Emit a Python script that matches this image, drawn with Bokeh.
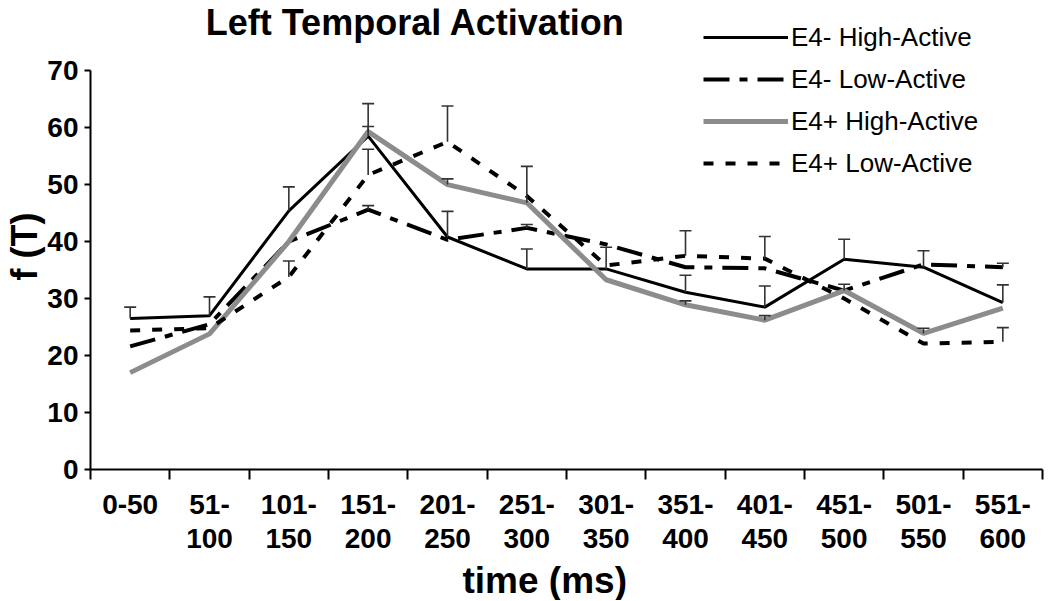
from bokeh.plotting import figure
from bokeh.models import (FixedTicker, Legend, LegendItem, Label, Whisker,
                          ColumnDataSource, TeeHead, Title)
from bokeh.embed import file_html
from bokeh.resources import INLINE

categories = ["0-50", "51-\n100", "101-\n150", "151-\n200", "201-\n250", "251-\n300",
              "301-\n350", "351-\n400", "401-\n450", "451-\n500", "501-\n550", "551-\n600"]

e4m_high = [26.5, 27.0, 45.4, 58.5, 40.8, 35.2, 35.2, 31.1, 28.5, 36.9, 35.5, 29.3]
e4m_high_top = [28.5, 30.3, 49.6, 60.2, 45.3, 38.7, 39.0, 34.1, 32.2, 40.4, 38.4, 32.4]

e4m_low = [21.6, 25.5, 40.0, 45.6, 40.3, 42.4, 39.5, 35.5, 35.3, 31.4, 36.0, 35.5]
e4m_low_top = [None, None, None, 46.3, None, 43.0, None, None, None, None, None, 36.2]

e4p_high = [17.0, 23.8, 40.0, 59.3, 50.0, 46.8, 33.3, 28.9, 26.2, 31.4, 23.9, 28.3]
e4p_high_top = [None, None, None, 64.2, 51.0, 53.2, None, 29.6, 27.0, 32.5, 24.8, None]

e4p_low = [24.4, 24.8, 33.8, 51.7, 57.5, 48.0, 35.8, 37.5, 37.0, 30.0, 22.1, 22.4]
e4p_low_top = [None, None, 36.6, 56.2, 63.8, None, None, 41.9, 40.9, None, None, 24.9]

y_ticks = [0, 10, 20, 30, 40, 50, 60, 70]

title_text = "Left Temporal Activation"
x_title = "time (ms)"
y_title = "f (T)"

FONT = "Liberation Sans, Arial, sans-serif"

n = len(categories)
xc = [i + 0.5 for i in range(n)]

p = figure(width=1050, height=600, x_range=(0, n), y_range=(0, 80.9),
           output_backend="svg", toolbar_location=None,
           min_border_left=90, min_border_right=8, min_border_top=8,
           min_border_bottom=127)
p.outline_line_color = None
p.grid.grid_line_color = None
p.background_fill_color = "white"
p.border_fill_color = "white"

# x axis
p.xaxis.ticker = FixedTicker(ticks=xc, minor_ticks=list(range(n + 1)))
p.xaxis.major_label_overrides = {x: c for x, c in zip(xc, categories)}
p.xaxis.major_tick_out = 0
p.xaxis.major_tick_in = 0
p.xaxis.minor_tick_out = 10
p.xaxis.minor_tick_in = 0
p.xaxis.minor_tick_line_color = "black"
p.xaxis.minor_tick_line_width = 2
p.xaxis.axis_line_width = 2
p.xaxis.axis_line_color = "black"
p.xaxis.major_label_standoff = 9
p.xaxis.major_label_text_font = FONT
p.xaxis.major_label_text_font_style = "bold"
p.xaxis.major_label_text_font_size = "28px"
p.xaxis.major_label_text_color = "black"
p.xaxis.major_label_text_line_height = 1.12

# y axis
p.yaxis.bounds = (0, 70)
p.yaxis.ticker = FixedTicker(ticks=y_ticks)
p.yaxis.minor_tick_line_color = None
p.yaxis.major_tick_out = 6
p.yaxis.major_tick_in = 0
p.yaxis.major_tick_line_width = 2
p.yaxis.axis_line_width = 2
p.yaxis.axis_line_color = "black"
p.yaxis.major_label_standoff = 6
p.yaxis.major_label_text_font = FONT
p.yaxis.major_label_text_font_style = "bold"
p.yaxis.major_label_text_font_size = "28px"
p.yaxis.major_label_text_color = "black"

# axis titles as side titles (precise placement)
p.add_layout(Title(text=x_title, align="left", offset=372, standoff=0,
                   text_font=FONT, text_font_style="bold", text_font_size="37px",
                   text_color="black", text_line_height=0.9), "below")
p.add_layout(Title(text=y_title, align="left", offset=189, standoff=0,
                   text_font=FONT, text_font_style="bold", text_font_size="36px",
                   text_color="black", text_line_height=0.9), "left")


def add_whiskers(means, tops):
    idx = [i for i, t in enumerate(tops) if t is not None]
    src = ColumnDataSource(dict(x=[xc[i] for i in idx],
                                lo=[means[i] for i in idx],
                                hi=[tops[i] for i in idx]))
    w = Whisker(base="x", lower="lo", upper="hi", source=src,
                line_color="#333333", line_width=1.6,
                upper_head=TeeHead(size=12, line_color="#333333", line_width=1.6),
                lower_head=None, level="glyph")
    p.add_layout(w)


add_whiskers(e4m_high, e4m_high_top)
add_whiskers(e4m_low, e4m_low_top)
add_whiskers(e4p_high, e4p_high_top)
add_whiskers(e4p_low, e4p_low_top)

r1 = p.line(xc, e4m_high, line_color="black", line_width=3)
r2 = p.line(xc, e4m_low, line_color="black", line_width=4, line_dash="26 10 8 10")
r3 = p.line(xc, e4p_high, line_color="#8c8c8c", line_width=5)
r4 = p.line(xc, e4p_low, line_color="black", line_width=4, line_dash="10 12")

legend = Legend(items=[LegendItem(label="E4- High-Active", renderers=[r1]),
                       LegendItem(label="E4- Low-Active", renderers=[r2]),
                       LegendItem(label="E4+ High-Active", renderers=[r3]),
                       LegendItem(label="E4+ Low-Active", renderers=[r4])],
                location=(613, 285), glyph_width=85, glyph_height=42,
                label_standoff=3, spacing=0, padding=0, margin=0,
                border_line_color=None, background_fill_alpha=0,
                label_text_font=FONT, label_text_font_size="26px",
                label_text_color="black")
p.add_layout(legend)

p.add_layout(Label(x=325, y=447, x_units="screen", y_units="screen",
                   text=title_text, text_align="center",
                   text_baseline="alphabetic",
                   text_font=FONT, text_font_style="bold", text_font_size="36px",
                   text_color="black"))

open("out.html", "w").write(file_html(p, INLINE))
